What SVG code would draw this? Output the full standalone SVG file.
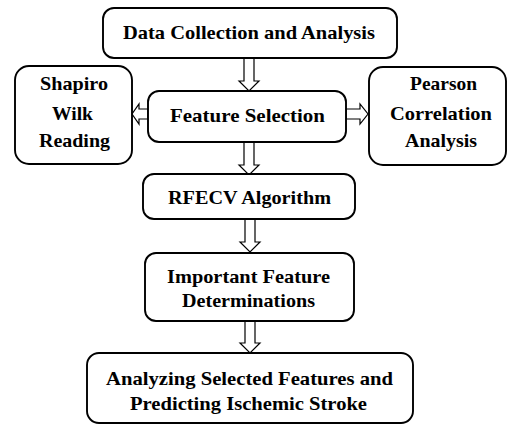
<svg xmlns="http://www.w3.org/2000/svg" width="508" height="425" viewBox="0 0 508 425">
  <style>
    .box { fill: #ffffff; stroke: #000000; stroke-width: 1.9; }
    .arrow { fill: #ffffff; stroke: #000000; stroke-width: 1.2; stroke-linejoin: miter; }
    .label { font-family: 'Liberation Serif', serif; font-weight: bold; font-size: 19px; fill: #000000; text-anchor: middle; }
  </style>
  <rect width="508" height="425" fill="#ffffff"/>

  <g id="connectors">
    <!-- Data Collection -> Feature Selection -->
    <path class="arrow" d="M244,58 H254 V81 H259 L249,91 L239,81 H244 Z"/>
    <!-- Feature Selection -> Shapiro Wilk -->
    <path class="arrow" d="M148,109 V119 H139 V124 L132,114 L139,104 V109 Z"/>
    <!-- Feature Selection -> Pearson -->
    <path class="arrow" d="M346,109 V119 H360 V124 L368,114 L360,104 V109 Z"/>
    <!-- Feature Selection -> RFECV -->
    <path class="arrow" d="M244,142 H254 V165 H259 L249,175 L239,165 H244 Z"/>
    <!-- RFECV -> Important Feature -->
    <path class="arrow" d="M245,219 H255 V242 H260 L250,252 L240,242 H245 Z"/>
    <!-- Important Feature -> Analyzing -->
    <path class="arrow" d="M245,321 H255 V343 H260 L250,353 L240,343 H245 Z"/>
  </g>

  <g id="data-collection">
    <rect class="box" x="103" y="8" width="294" height="50" rx="11"/>
    <text class="label" x="249" y="39" textLength="252" lengthAdjust="spacingAndGlyphs">Data Collection and Analysis</text>
  </g>

  <g id="feature-selection">
    <rect class="box" x="148" y="91" width="198" height="51" rx="11"/>
    <text class="label" x="247.5" y="122" textLength="155" lengthAdjust="spacingAndGlyphs">Feature Selection</text>
  </g>

  <g id="shapiro-wilk">
    <rect class="box" x="15" y="66" width="117" height="98" rx="14"/>
    <text class="label" x="74" y="90" textLength="68" lengthAdjust="spacingAndGlyphs">Shapiro</text>
    <text class="label" x="72.5" y="120" textLength="41" lengthAdjust="spacingAndGlyphs">Wilk</text>
    <text class="label" x="74.5" y="147" textLength="71" lengthAdjust="spacingAndGlyphs">Reading</text>
  </g>

  <g id="pearson">
    <rect class="box" x="369" y="67" width="137" height="98" rx="14"/>
    <text class="label" x="443.5" y="90" textLength="67" lengthAdjust="spacingAndGlyphs">Pearson</text>
    <text class="label" x="441" y="120" textLength="102" lengthAdjust="spacingAndGlyphs">Correlation</text>
    <text class="label" x="441" y="147" textLength="72" lengthAdjust="spacingAndGlyphs">Analysis</text>
  </g>

  <g id="rfecv">
    <rect class="box" x="143" y="174" width="212" height="45" rx="11"/>
    <text class="label" x="249.5" y="204" textLength="163" lengthAdjust="spacingAndGlyphs">RFECV Algorithm</text>
  </g>

  <g id="important-features">
    <rect class="box" x="145" y="253" width="209" height="68" rx="11"/>
    <text class="label" x="248.5" y="283" textLength="163" lengthAdjust="spacingAndGlyphs">Important Feature</text>
    <text class="label" x="248.5" y="307" textLength="133" lengthAdjust="spacingAndGlyphs">Determinations</text>
  </g>

  <g id="analyzing">
    <rect class="box" x="87" y="353" width="326" height="70" rx="12"/>
    <text class="label" x="249.5" y="385" textLength="287" lengthAdjust="spacingAndGlyphs">Analyzing Selected Features and</text>
    <text class="label" x="248.5" y="410" textLength="237" lengthAdjust="spacingAndGlyphs">Predicting Ischemic Stroke</text>
  </g>
</svg>
